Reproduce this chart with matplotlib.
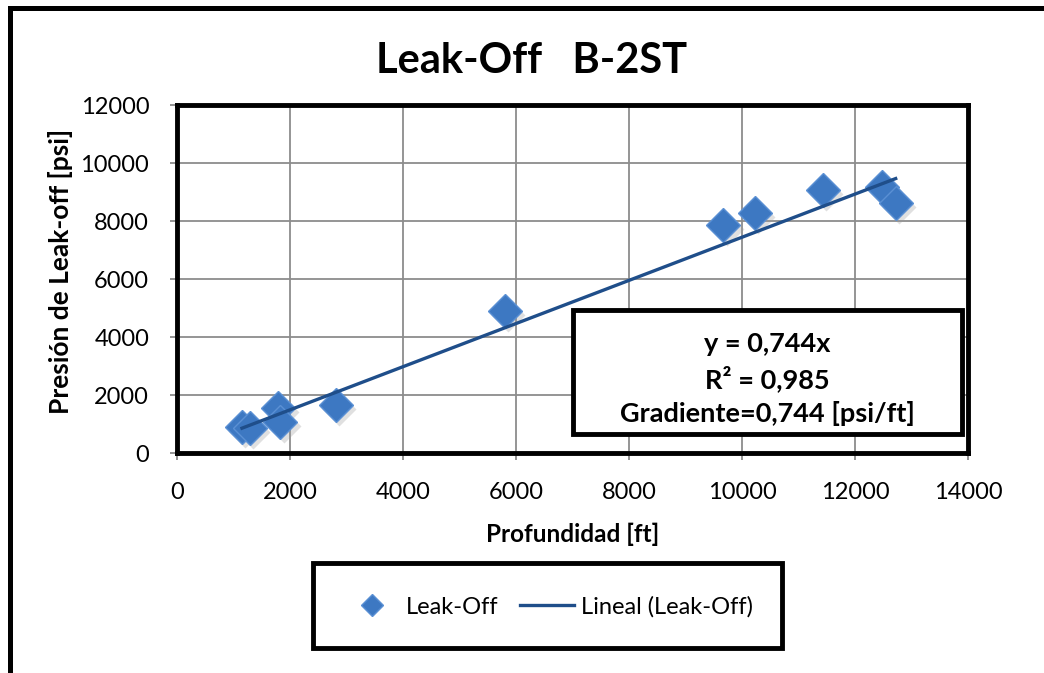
import numpy as np
import matplotlib
matplotlib.use("Agg")
import matplotlib.pyplot as plt
from matplotlib.patches import Rectangle

plt.rcParams['font.family'] = ['Lato', 'DejaVu Sans']

# Leak-off test points, well B-2ST
depth_ft = [1150, 1290, 1795, 1825, 2815, 5805, 9670, 10230, 11430, 12470, 12720]
pressure_psi = [910, 860, 1545, 1085, 1660, 4910, 7850, 8290, 9070, 9175, 8635]
slope = 0.744
r2 = 0.985

x_ticks = [0, 2000, 4000, 6000, 8000, 10000, 12000, 14000]
y_ticks = [0, 2000, 4000, 6000, 8000, 10000, 12000]

W, H = 1044, 673
fig = plt.figure(figsize=(W / 100, H / 100), dpi=100)

def fx(px):
    return px / W

def fy(py):
    return 1 - py / H

ax = fig.add_axes([fx(177), fy(453), fx(968) - fx(177), fy(105) - fy(453)])

# outer chart frame (only left and top visible)
fig.patches.append(Rectangle((fx(10), -0.1), 1.2, fy(8) + 0.1, transform=fig.transFigure,
                             fill=False, edgecolor='black', linewidth=3.6, zorder=0))

ax.set_xlim(0, 14000)
ax.set_ylim(0, 12000)
ax.set_xticks(x_ticks)
ax.set_yticks(y_ticks)
ax.tick_params(axis='both', labelsize=17, color='#808080', length=5, width=1.2, direction='out')
ax.tick_params(axis='x', pad=16)
ax.tick_params(axis='y', pad=15)
ax.grid(True, color='#8c8c8c', linewidth=1.3)
ax.set_axisbelow(True)
for s in ax.spines.values():
    s.set_color('black')
    s.set_linewidth(3.5)

# soft shadow under the diamonds
ax.plot(np.array(depth_ft) + 60, np.array(pressure_psi) - 140, 'D', ms=17,
        color='#9a9a9a', alpha=0.3, mec='none', zorder=2)
pts, = ax.plot(depth_ft, pressure_psi, 'D', ms=17, color='#3d78c2',
               mec='#5a90d4', mew=1.0, zorder=3, label='Leak-Off')

# linear trend through the origin
xs = np.array([min(depth_ft), max(depth_ft)])
trend, = ax.plot(xs, slope * xs, color='#1f4e8a', linewidth=2.4, zorder=4,
                 label='Lineal (Leak-Off)')

ax.set_xlabel('Profundidad [ft]', fontsize=17.5, fontweight='bold', labelpad=14)
ax.set_ylabel('Presión de Leak-off [psi]', fontsize=19, fontweight='bold')
ax.yaxis.set_label_coords(fx(73), fy(271), transform=fig.transFigure)

fig.text(fx(532), fy(61), 'Leak-Off   B-2ST', fontsize=30, fontweight='bold',
         ha='center', va='center')

# equation box
fig.patches.append(Rectangle((fx(573), fy(434)), fx(962) - fx(573), fy(310) - fy(434),
                             transform=fig.transFigure, facecolor='white',
                             edgecolor='black', linewidth=3.5, zorder=5))
eq_lines = ['y = %s' % (f'{slope:.3f}'.replace('.', ',') + 'x'),
            'R² = %s' % f'{r2:.3f}'.replace('.', ','),
            'Gradiente=%s [psi/ft]' % f'{slope:.3f}'.replace('.', ',')]
for i, line in enumerate(eq_lines):
    fig.text(fx(767), fy(344 + 34.5 * i), line, fontsize=19.5, fontweight='bold',
             ha='center', va='center', zorder=6)

# legend box
fig.patches.append(Rectangle((fx(313), fy(648)), fx(782) - fx(313), fy(563) - fy(648),
                             transform=fig.transFigure, fill=False,
                             edgecolor='black', linewidth=3.5, zorder=5))
leg = fig.legend(handles=[pts, trend], loc='center', bbox_to_anchor=(fx(549), fy(607)),
                 ncol=2, frameon=False, fontsize=17, handlelength=2.3,
                 columnspacing=0.9, handletextpad=0.3, markerscale=0.65)

fig.savefig('out.png', dpi=100)
